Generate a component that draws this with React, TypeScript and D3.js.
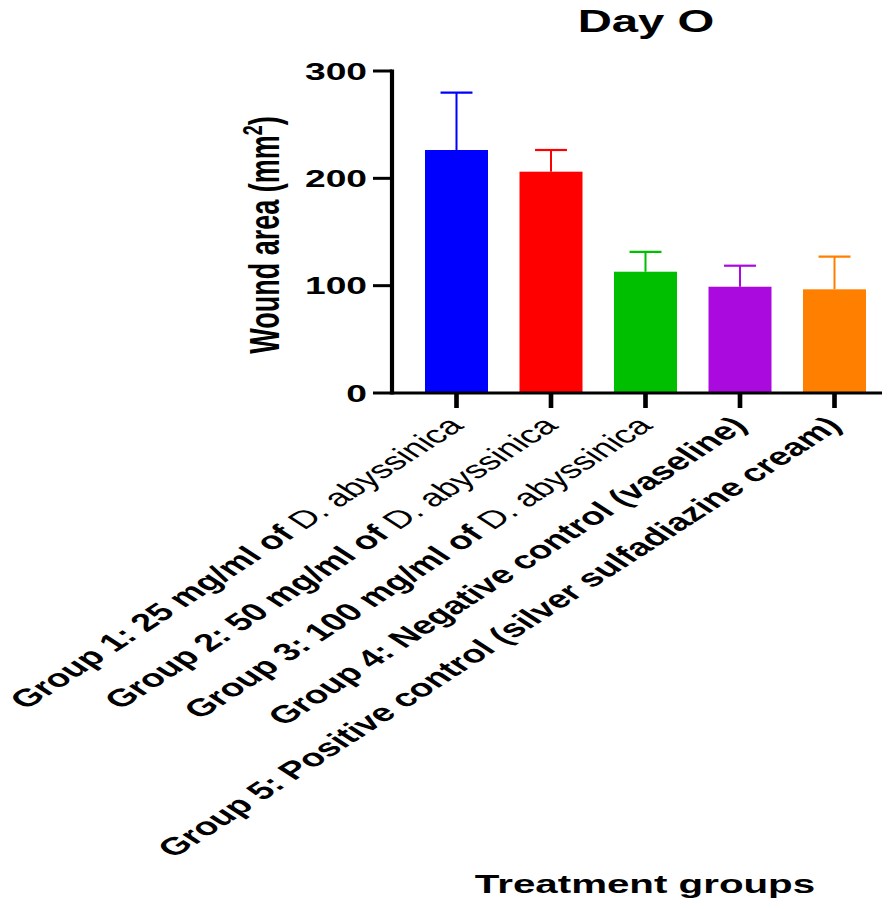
import React from 'react';
import * as d3 from 'd3';

const categories = ['G1', 'G2', 'G3', 'G4', 'G5'];
const labelBold = [
  'Group 1: 25 mg/ml of ',
  'Group 2: 50 mg/ml of ',
  'Group 3: 100 mg/ml of ',
  'Group 4: Negative control (vaseline)',
  'Group 5: Positive control (silver sulfadiazine cream)',
];
const labelRegular = [' D. abyssinica', ' D. abyssinica', ' D. abyssinica', '', ''];
const means = [226.4, 206.2, 113.0, 99.0, 96.6];
const sds = [53.4, 20.2, 18.4, 19.6, 30.4];
const colors = ['#0000ff', '#ff0000', '#00bf00', '#ab0adf', '#ff8000'];
const yTicks = [0, 100, 200, 300];

const S = 1.55; // horizontal stretch of the whole figure
const FONT = "'Liberation Sans', Arial, Helvetica, sans-serif";

export default function App() {
  const W = 894;
  const H = 909;
  const x = d3
    .scaleBand<string>()
    .domain(categories)
    .range([409.25 / S, 881.75 / S])
    .paddingInner(1 / 3)
    .paddingOuter(1 / 6);
  const y = d3.scaleLinear().domain([0, 300]).range([393, 71]);
  const axisX = 392 / S;
  const capHalf = 10.3;

  return (
    <svg width={W} height={H} style={{ display: 'block', position: 'absolute', left: 0, top: 0 }}>
      <rect x={0} y={0} width={W} height={H} fill="#fff" />
      <g transform={`scale(${S},1)`} fontFamily={FONT}>
        {/* title */}
        <text x={646 / S} y={32} textAnchor="middle" fontWeight="bold" fontSize={30.5}>
          Day O
        </text>

        {/* bars */}
        {categories.map((c, i) => (
          <rect
            key={c}
            x={x(c)}
            y={y(means[i])}
            width={x.bandwidth()}
            height={y(0) - y(means[i])}
            fill={colors[i]}
          />
        ))}

        {/* error bars */}
        {categories.map((c, i) => {
          const cx = (x(c) as number) + x.bandwidth() / 2;
          return (
            <g key={c} stroke={colors[i]}>
              <line x1={cx} x2={cx} y1={y(means[i])} y2={y(means[i] + sds[i])} strokeWidth={1.3} />
              <line
                x1={cx - capHalf}
                x2={cx + capHalf}
                y1={y(means[i] + sds[i])}
                y2={y(means[i] + sds[i])}
                strokeWidth={2.2}
              />
            </g>
          );
        })}

        {/* y axis */}
        <line x1={axisX} x2={axisX} y1={y(300) - 1.5} y2={y(0) + 1.5} stroke="#000" strokeWidth={2.7} />
        {yTicks.map((t) => (
          <g key={t}>
            <line x1={373 / S} x2={axisX} y1={y(t)} y2={y(t)} stroke="#000" strokeWidth={3} />
            <text
              x={367 / S}
              y={y(t)}
              dy="0.36em"
              textAnchor="end"
              fontWeight="bold"
              fontSize={24}
            >
              {t}
            </text>
          </g>
        ))}

        {/* x axis */}
        <line x1={axisX} x2={882 / S} y1={y(0)} y2={y(0)} stroke="#000" strokeWidth={3} />
        {categories.map((c) => {
          const cx = (x(c) as number) + x.bandwidth() / 2;
          return <line key={c} x1={cx} x2={cx} y1={y(0)} y2={408} stroke="#000" strokeWidth={3} />;
        })}

        {/* x labels */}
        {categories.map((c, i) => {
          const cx = (x(c) as number) + x.bandwidth() / 2;
          const ax = cx + 5.5;
          const ay = 427;
          return (
            <text
              key={c}
              transform={`translate(${ax},${ay}) rotate(-45)`}
              textAnchor="end"
              fontSize={24.7}
            >
              <tspan fontWeight="bold">{labelBold[i]}</tspan>
              {labelRegular[i] ? <tspan fontWeight="normal">{labelRegular[i]}</tspan> : null}
            </text>
          );
        })}

        {/* y axis title */}
        <text
          transform={`translate(${279 / S},235) rotate(-90)`}
          textAnchor="middle"
          fontWeight="bold"
          fontSize={27}
        >
          Wound area (mm
          <tspan fontSize={18} dy={-11}>2</tspan>
          <tspan dy={11}>)</tspan>
        </text>

        {/* x axis title */}
        <text x={645 / S} y={893} textAnchor="middle" fontWeight="bold" fontSize={26}>
          Treatment groups
        </text>
      </g>
    </svg>
  );
}
